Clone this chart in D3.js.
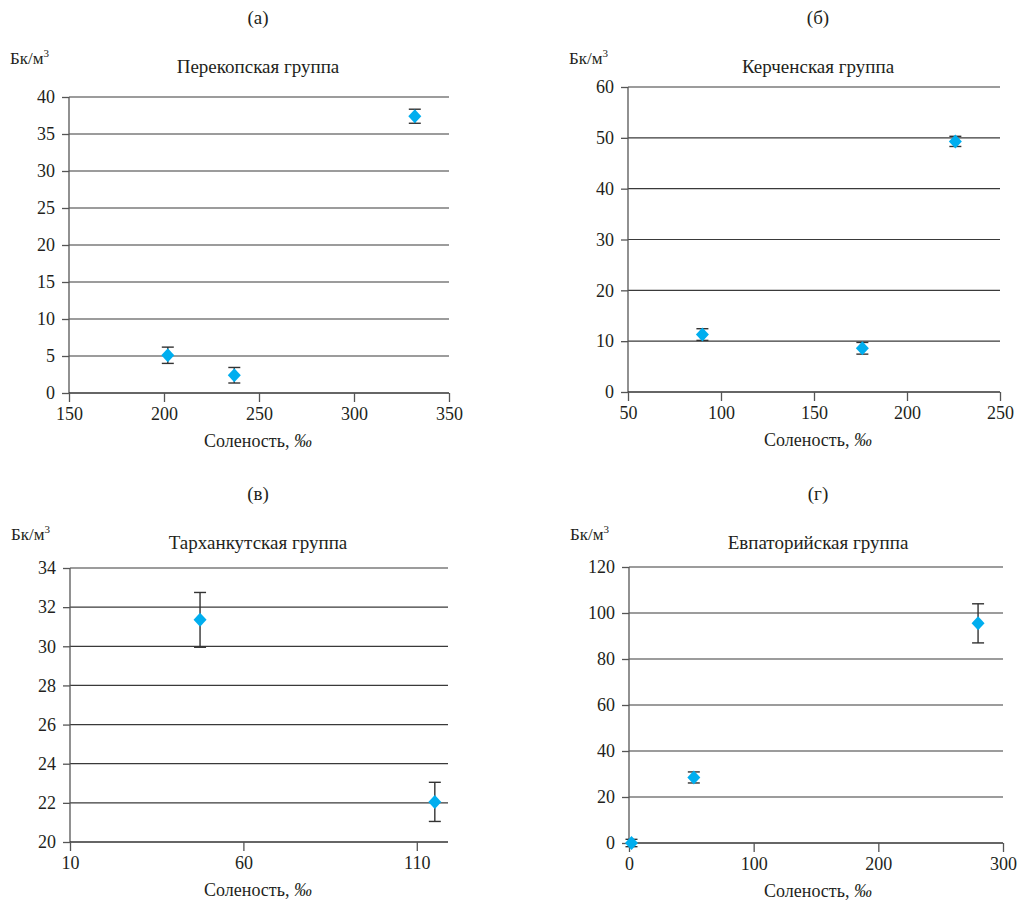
<!DOCTYPE html>
<html><head><meta charset="utf-8">
<script src="https://cdn.jsdelivr.net/npm/d3@7"></script>
</head><body>
<svg id="c" width="1026" height="908"></svg>
<script>
// Panel (а) Перекопская группа
const aSalinity = [202, 237, 332];
const aValues = [5.1, 2.4, 37.4];
const aErrors = [1.1, 1.05, 0.95];
const aYTicks = [0, 5, 10, 15, 20, 25, 30, 35, 40];
const aXTicks = [150, 200, 250, 300, 350];
// Panel (б) Керченская группа
const bSalinity = [90, 176, 226];
const bValues = [11.3, 8.6, 49.3];
const bErrors = [1.15, 1.15, 1.0];
const bYTicks = [0, 10, 20, 30, 40, 50, 60];
const bXTicks = [50, 100, 150, 200, 250];
// Panel (в) Тарханкутская группа
const cSalinity = [47.5, 115.2];
const cValues = [31.35, 22.05];
const cErrors = [1.4, 1.0];
const cYTicks = [20, 22, 24, 26, 28, 30, 32, 34];
const cXTicks = [10, 60, 110];
// Panel (г) Евпаторийская группа
const dSalinity = [2, 52, 280];
const dValues = [0, 28.5, 95.5];
const dErrors = [1.6, 2.4, 8.5];
const dYTicks = [0, 20, 40, 60, 80, 100, 120];
const dXTicks = [0, 100, 200, 300];

const panels = [
  {tag:"(а)", title:"Перекопская группа", xs:aSalinity, ys:aValues, es:aErrors, yt:aYTicks, xt:aXTicks,
   xd:[150,350], yd:[0,40], L:69, R:449, T:97, B:393, cx:258, top:0},
  {tag:"(б)", title:"Керченская группа", xs:bSalinity, ys:bValues, es:bErrors, yt:bYTicks, xt:bXTicks,
   xd:[50,250], yd:[0,60], L:628, R:1000, T:87, B:392, cx:818, top:0},
  {tag:"(в)", title:"Тарханкутская группа", xs:cSalinity, ys:cValues, es:cErrors, yt:cYTicks, xt:cXTicks,
   xd:[10,119], yd:[20,34], L:70, R:448, T:568, B:842, cx:258, top:476},
  {tag:"(г)", title:"Евпаторийская группа", xs:dSalinity, ys:dValues, es:dErrors, yt:dYTicks, xt:dXTicks,
   xd:[0,300], yd:[0,120], L:629, R:1003, T:567, B:843, cx:818, top:476},
];

d3.select("body").style("margin","0px").style("background","#fff");
const INK = "#231f20";
const svg = d3.select("#c").style("display","block");
const FS = 18;

function txt(sel){ return sel.style("font-family", "Liberation Serif").style("fill", INK); }

panels.forEach(p => {
  const g = svg.append("g");
  const x = d3.scaleLinear().domain(p.xd).range([p.L, p.R]);
  const y = d3.scaleLinear().domain(p.yd).range([p.B, p.T]);

  txt(svg.append("text")).attr("x", p.cx).attr("y", p.top + 24).attr("text-anchor","middle")
    .style("font-size","19px").text(p.tag);
  txt(svg.append("text")).attr("x", p.cx).attr("y", p.top + 73).attr("text-anchor","middle")
    .style("font-size","19px").text(p.title);
  const u = txt(svg.append("text")).attr("x", p.L - 59).attr("y", p.top + 64).style("font-size","17px");
  u.append("tspan").text("Бк/м");
  u.append("tspan").attr("dy",-7).style("font-size","11px").text("3");

  g.append("g").selectAll("line").data(p.yt.slice(1)).join("line")
    .attr("x1", p.L).attr("x2", p.R).attr("y1", d=>y(d)).attr("y2", d=>y(d))
    .attr("stroke","#3a3a3a").attr("stroke-width",1.2);

  const ya = g.append("g").attr("transform",`translate(${p.L},0)`)
    .call(d3.axisLeft(y).tickValues(p.yt).tickSize(7).tickPadding(7).tickFormat(d3.format("d")));
  ya.select(".domain").attr("stroke","#555").attr("stroke-width",1.3).attr("d",`M0,${p.T}V${p.B}`);
  ya.selectAll(".tick line").attr("stroke","#555").attr("stroke-width",1.3);
  txt(ya.selectAll("text")).style("font-size", FS+"px");

  const xa = g.append("g").attr("transform",`translate(0,${p.B})`)
    .call(d3.axisBottom(x).tickValues(p.xt).tickSize(9).tickPadding(5).tickFormat(d3.format("d")));
  xa.select(".domain").attr("stroke","#333").attr("stroke-width",1.3).attr("d",`M${p.L},0H${p.R}`);
  xa.selectAll(".tick line").attr("stroke","#555").attr("stroke-width",1.3);
  txt(xa.selectAll("text")).style("font-size", FS+"px");

  const xl = txt(svg.append("text")).attr("x", p.cx).attr("y", p.B + 54).attr("text-anchor","middle")
    .style("font-size","18px");
  xl.append("tspan").text("Соленость, ");
  xl.append("tspan").style("font-style","italic").text("‰");

  const pts = p.xs.map((v,i)=>({x:v, y:p.ys[i], e:p.es[i]}));
  const eb = g.append("g").attr("stroke","#333").attr("stroke-width",1.4);
  eb.selectAll(".v").data(pts).join("line")
    .attr("x1",d=>x(d.x)).attr("x2",d=>x(d.x)).attr("y1",d=>y(d.y-d.e)).attr("y2",d=>y(d.y+d.e));
  eb.selectAll(".t").data(pts).join("line")
    .attr("x1",d=>x(d.x)-6).attr("x2",d=>x(d.x)+6).attr("y1",d=>y(d.y+d.e)).attr("y2",d=>y(d.y+d.e));
  eb.selectAll(".b").data(pts).join("line")
    .attr("x1",d=>x(d.x)-6).attr("x2",d=>x(d.x)+6).attr("y1",d=>y(d.y-d.e)).attr("y2",d=>y(d.y-d.e));

  g.append("g").selectAll("path").data(pts).join("path")
    .attr("transform",d=>`translate(${x(d.x)},${y(d.y)})`)
    .attr("d","M0,-7L6.5,0L0,7L-6.5,0Z").attr("fill","#00aeef");
});
</script>
</body></html>
